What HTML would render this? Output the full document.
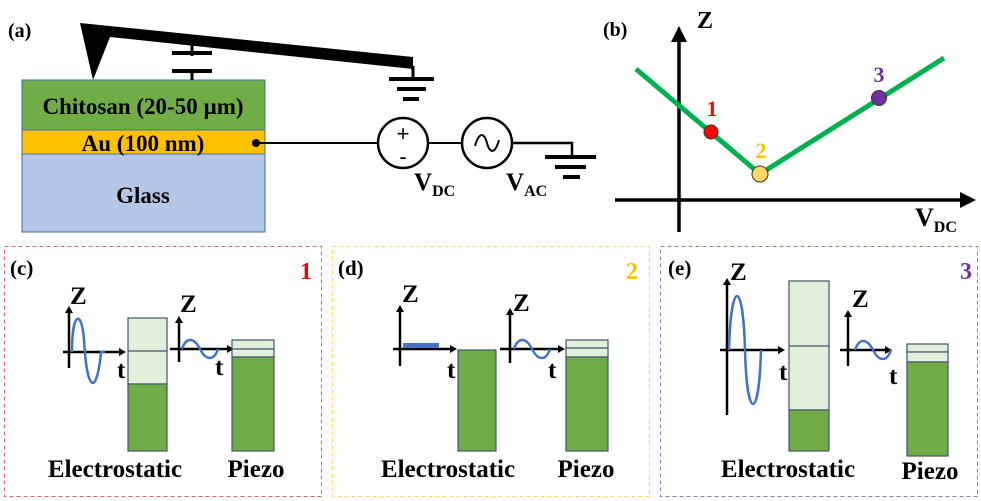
<!DOCTYPE html>
<html><head><meta charset="utf-8"><style>
html,body{margin:0;padding:0;background:#fff;}
svg{display:block;}
text{font-family:"Liberation Serif",serif;font-weight:bold;}
</style></head><body>
<svg width="981" height="501" viewBox="0 0 981 501" xmlns="http://www.w3.org/2000/svg">
<!-- (a) -->
<text x="8" y="37" font-size="20">(a)</text>
<rect x="22" y="80" width="243" height="50" fill="#70ad47" stroke="#41719c" stroke-width="1"/>
<rect x="22" y="130" width="243" height="24" fill="#ffc000" stroke="#41719c" stroke-width="1"/>
<rect x="22" y="154" width="243" height="78" fill="#b4c7e7" stroke="#41719c" stroke-width="1"/>
<text x="143" y="114" font-size="23" text-anchor="middle">Chitosan (20-50 µm)</text>
<text x="143" y="151" font-size="23" text-anchor="middle">Au (100 nm)</text>
<text x="143" y="203" font-size="23" text-anchor="middle">Glass</text>
<!-- cantilever -->
<polygon points="80,23 413,57 413,69 110,37 93,80" fill="#000"/>
<line x1="192" y1="45" x2="192" y2="80" stroke="#000" stroke-width="3"/>
<rect x="172" y="51" width="40" height="4" fill="#000"/>
<line x1="192" y1="56" x2="192" y2="69" stroke="#fff" stroke-width="5"/>
<rect x="172" y="69" width="40" height="4" fill="#000"/>
<line x1="413" y1="66" x2="413" y2="79" stroke="#000" stroke-width="3"/>
<rect x="389" y="77" width="45" height="4" fill="#000"/>
<rect x="397" y="87" width="29" height="4" fill="#000"/>
<rect x="403" y="97" width="16" height="4" fill="#000"/>
<!-- circuit -->
<circle cx="256" cy="143" r="4" fill="#000"/>
<line x1="256" y1="143" x2="377" y2="143" stroke="#000" stroke-width="2"/>
<circle cx="403" cy="143" r="25" fill="#fff" stroke="#000" stroke-width="2.5"/>
<text x="403" y="141" font-size="22" text-anchor="middle" style="font-family:'Liberation Sans',sans-serif;font-weight:normal">+</text>
<text x="403" y="164" font-size="22" text-anchor="middle" style="font-family:'Liberation Sans',sans-serif;font-weight:normal">-</text>
<line x1="428" y1="143" x2="462" y2="143" stroke="#000" stroke-width="2"/>
<circle cx="487" cy="143" r="25" fill="#fff" stroke="#000" stroke-width="2.5"/>
<path d="M475,146 C479,132 484,132 487,143 C490,154 495,154 499,140" fill="none" stroke="#000" stroke-width="2"/>
<polyline points="512,143 572,143 572,157" fill="none" stroke="#000" stroke-width="2.5"/>
<rect x="545" y="155" width="51" height="4" fill="#000"/>
<rect x="555" y="165" width="31" height="4" fill="#000"/>
<rect x="563" y="175" width="17" height="4" fill="#000"/>
<text x="414" y="190" font-size="25">V<tspan font-size="16" dy="6">DC</tspan></text>
<text x="506" y="190" font-size="25">V<tspan font-size="16" dy="6">AC</tspan></text>
<!-- (b) -->
<text x="603" y="36" font-size="20">(b)</text>
<line x1="679" y1="232" x2="679" y2="40" stroke="#000" stroke-width="3.5"/>
<polygon points="671,42 687,42 679,26" fill="#000"/>
<text x="697" y="28" font-size="24">Z</text>
<line x1="615" y1="200" x2="962" y2="200" stroke="#000" stroke-width="3.5"/>
<polygon points="960,192 960,208 976,200" fill="#000"/>
<text x="915" y="226" font-size="26">V<tspan font-size="16" dy="6">DC</tspan></text>
<polyline points="636,69 760,174 944,58" fill="none" stroke="#00b050" stroke-width="5"/>
<circle cx="711" cy="132" r="7" fill="#ff0000" stroke="#333" stroke-width="1"/>
<text x="712" y="116" font-size="22" fill="#ff0000" text-anchor="middle">1</text>
<circle cx="760" cy="174" r="8" fill="#ffd966" stroke="#333" stroke-width="1"/>
<text x="761" y="158" font-size="22" fill="#ffc000" text-anchor="middle">2</text>
<circle cx="879" cy="98" r="7.5" fill="#7030a0" stroke="#333" stroke-width="1"/>
<text x="879" y="82" font-size="22" fill="#7030a0" text-anchor="middle">3</text>

<!-- panels -->
<rect x="4.5" y="246.5" width="317" height="250" fill="none" stroke="#e06666" stroke-width="1" stroke-dasharray="4,3"/>
<rect x="332.5" y="246.5" width="317" height="250" fill="none" stroke="#ffd966" stroke-width="1" stroke-dasharray="4,3"/>
<rect x="660.5" y="246.5" width="317" height="250" fill="none" stroke="#8e7cc3" stroke-width="1" stroke-dasharray="4,3"/>

<g stroke="#000" stroke-width="2.5">
<line x1="69" y1="368" x2="69" y2="312"/><line x1="63" y1="352" x2="120" y2="352"/>
<line x1="179" y1="362" x2="179" y2="322"/><line x1="170" y1="349" x2="228" y2="349"/>
<line x1="400" y1="366" x2="400" y2="311"/><line x1="393" y1="349" x2="451" y2="349"/>
<line x1="510" y1="363" x2="510" y2="314"/><line x1="500" y1="349" x2="559" y2="349"/>
<line x1="727" y1="415" x2="727" y2="284"/><line x1="720" y1="350" x2="779" y2="350"/>
<line x1="848" y1="366" x2="848" y2="316"/><line x1="840" y1="350" x2="886" y2="350"/>
</g>
<g fill="#000">
<polygon points="65,313 73,313 69,306"/><polygon points="119,348 119,356 126,352"/>
<polygon points="175,323 183,323 179,316"/><polygon points="227,345 227,353 234,349"/>
<polygon points="396,312 404,312 400,305"/><polygon points="450,345 450,353 457,349"/>
<polygon points="506,315 514,315 510,308"/><polygon points="558,345 558,353 565,349"/>
<polygon points="723,285 731,285 727,278"/><polygon points="778,346 778,354 785,350"/>
<polygon points="844,317 852,317 848,310"/><polygon points="885,346 885,354 892,350"/>
</g>
<g font-size="25">
<text x="70" y="304">Z</text><text x="117" y="378">t</text>
<text x="180" y="312">Z</text><text x="215" y="375">t</text>
<text x="402" y="302">Z</text><text x="447" y="378">t</text>
<text x="513" y="311">Z</text><text x="548" y="378">t</text>
<text x="730" y="280">Z</text><text x="779" y="380">t</text>
<text x="852" y="307">Z</text><text x="889" y="384">t</text>
</g>
<g fill="none" stroke="#4472c4" stroke-width="2.5">
<path d="M72,352 C72,310 82,310 84,340 C87,395 97,395 101,352 L105,352"/>
<path d="M182,349 C186,337 194,337 200,349 C206,361 214,361 218,349"/>
<path d="M514,349 C518,337 526,337 532,349 C538,361 546,361 550,349"/>
<path d="M729,350 C731,278 743,278 745,350 C747,422 759,422 761,350"/>
<path d="M855,350 C859,338 867,338 873,350 C879,362 887,362 891,350"/>
</g>
<rect x="403" y="343" width="36" height="5" fill="#4472c4"/>
<g stroke="#44546a" stroke-width="1.2">
<rect x="128" y="318" width="39" height="33" fill="#e2efda"/>
<rect x="128" y="351" width="39" height="33" fill="#e2efda"/>
<rect x="128" y="384" width="39" height="67" fill="#70ad47"/>
<rect x="232" y="340" width="42" height="9" fill="#e2efda"/>
<rect x="232" y="349" width="42" height="8" fill="#e2efda"/>
<rect x="232" y="357" width="42" height="94" fill="#70ad47"/>
<rect x="458" y="350" width="38" height="101" fill="#70ad47"/>
<rect x="566" y="340" width="42" height="8" fill="#e2efda"/>
<rect x="566" y="348" width="42" height="9" fill="#e2efda"/>
<rect x="566" y="357" width="42" height="94" fill="#70ad47"/>
<rect x="789" y="281" width="40" height="65" fill="#e2efda"/>
<rect x="789" y="346" width="40" height="64" fill="#e2efda"/>
<rect x="789" y="410" width="40" height="41" fill="#70ad47"/>
<rect x="907" y="344" width="41" height="8" fill="#e2efda"/>
<rect x="907" y="352" width="41" height="10" fill="#e2efda"/>
<rect x="907" y="362" width="41" height="94" fill="#70ad47"/>
</g>
<g font-size="25">
<text x="10" y="275" font-size="21">(c)</text>
<text x="306" y="279" fill="#ff0000" text-anchor="middle" font-size="24">1</text>
<text x="338" y="275" font-size="21">(d)</text>
<text x="632" y="279" fill="#ffc000" text-anchor="middle" font-size="24">2</text>
<text x="668" y="275" font-size="21">(e)</text>
<text x="966" y="279" fill="#7030a0" text-anchor="middle" font-size="24">3</text>
<text x="115" y="477" text-anchor="middle">Electrostatic</text>
<text x="256" y="477" text-anchor="middle">Piezo</text>
<text x="448" y="477" text-anchor="middle">Electrostatic</text>
<text x="586" y="477" text-anchor="middle">Piezo</text>
<text x="788" y="477" text-anchor="middle">Electrostatic</text>
<text x="930" y="479" text-anchor="middle">Piezo</text>
</g>
</svg>
</body></html>
